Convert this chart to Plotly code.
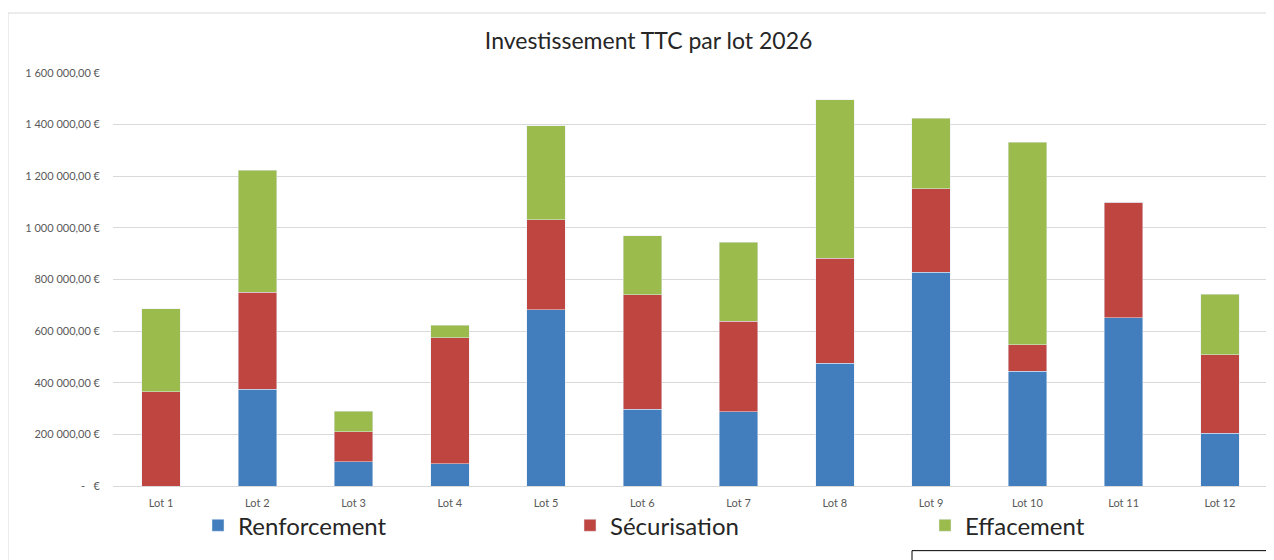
import plotly.graph_objects as go

lots = ["Lot 1", "Lot 2", "Lot 3", "Lot 4", "Lot 5", "Lot 6",
        "Lot 7", "Lot 8", "Lot 9", "Lot 10", "Lot 11", "Lot 12"]

# values in euros
renforcement = [0, 374000, 93000, 87000, 682000, 298000,
                287000, 475000, 829000, 444000, 652000, 205000]
securisation = [365000, 376000, 117000, 487000, 350000, 442000,
                351000, 408000, 323000, 104000, 447000, 304000]
effacement = [321000, 473000, 80000, 49000, 363000, 230000,
              306000, 614000, 272000, 783000, 0, 233000]

y_ticks = [0, 200000, 400000, 600000, 800000, 1000000, 1200000, 1400000, 1600000]
y_ticktext = ["-   €", "200 000,00 €", "400 000,00 €", "600 000,00 €", "800 000,00 €",
              "1 000 000,00 €", "1 200 000,00 €", "1 400 000,00 €", "1 600 000,00 €"]

font = "Lato, 'Open Sans', sans-serif"

fig = go.Figure()
fig.add_trace(go.Bar(x=lots, y=renforcement, name="Renforcement", marker_color="#427DBD", legend="legend"))
fig.add_trace(go.Bar(x=lots, y=securisation, name="Sécurisation", marker_color="#BF4541", legend="legend2"))
fig.add_trace(go.Bar(x=lots, y=effacement, name="Effacement", marker_color="#9BBB4D", legend="legend3"))

# page coords: the body has an 8px margin, so the figure sits at (8, 8)
# plot area spans page px 113..1268 horizontally and 73..486 vertically
def px_x(p):
    return (p - 113) / 1155

def px_y(p):
    return (486.3 - p) / 413.3

def leg(left):
    return dict(orientation="h", x=px_x(left), xanchor="left", y=px_y(526), yanchor="middle",
                bgcolor="rgba(0,0,0,0)", font=dict(family=font, size=24, color="#262626"),
                itemclick=False)

fig.update_layout(
    width=1266, height=552,
    barmode="stack", bargap=0.6,
    margin=dict(l=105, r=6, t=65, b=74, autoexpand=False),
    paper_bgcolor="white", plot_bgcolor="white",
    font=dict(family=font, color="#595959", size=11),
    title=dict(text="Investissement TTC par lot 2026", x=0.506, xanchor="center",
               y=1 - 33 / 552, yanchor="middle",
               font=dict(family=font, size=23, color="#262626")),
    showlegend=True,
    legend=leg(198), legend2=leg(570), legend3=leg(925),
    xaxis=dict(showgrid=False, showline=False, ticks="", ticklabelstandoff=9,
               tickfont=dict(size=11, color="#595959")),
    yaxis=dict(range=[0, 1600000], tickvals=y_ticks, ticktext=y_ticktext,
               showgrid=True, gridcolor="#D9D9D9", gridwidth=1,
               zeroline=True, zerolinecolor="#D9D9D9", zerolinewidth=1,
               showline=False, ticks="", ticklabelstandoff=12,
               tickfont=dict(size=11, color="#595959")),
    shapes=[
        # chart area border (light gray, top and left)
        dict(type="line", xref="paper", yref="paper", x0=px_x(8), x1=px_x(1290),
             y0=px_y(13), y1=px_y(13), line=dict(color="#D9D9D9", width=1)),
        dict(type="line", xref="paper", yref="paper", x0=px_x(8), x1=px_x(8),
             y0=px_y(13), y1=px_y(580), line=dict(color="#D9D9D9", width=1)),
        # black box peeking in at bottom right
        dict(type="line", xref="paper", yref="paper", x0=px_x(912), x1=px_x(1290),
             y0=px_y(551), y1=px_y(551), line=dict(color="black", width=1)),
        dict(type="line", xref="paper", yref="paper", x0=px_x(912), x1=px_x(912),
             y0=px_y(551), y1=px_y(580), line=dict(color="black", width=1)),
    ],
)

fig.write_html("out.html")
